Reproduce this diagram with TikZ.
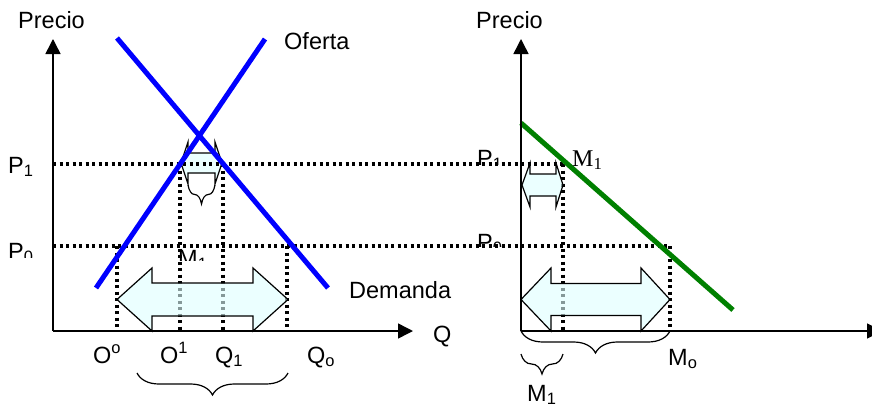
\documentclass[tikz,border=0pt]{standalone}
\usepackage{fontspec}
\setmainfont{Liberation Sans}
\newfontfamily\serifa{Liberation Serif}
\usepackage{tikz}
\usetikzlibrary{arrows.meta,calc,decorations.pathreplacing}
\definecolor{verde}{RGB}{0,128,0}
\definecolor{celeste}{RGB}{222,255,255}
\tikzstyle{eje}=[
  draw=black,
  line width=1.5pt,
  -{Triangle[length=15pt,width=15pt]},
]
\tikzstyle{curva}=[
  line width=5pt,
]
\tikzstyle{punteada}=[
  draw=black,
  line width=3.4pt,
  dash pattern=on 3.2pt off 3.3pt,
]
\tikzstyle{flechadoble}=[
  draw=black,
  line width=1.2pt,
  fill=celeste,
  fill opacity=.6,
  line join=miter,
]
\tikzstyle{llave}=[
  draw=black,
  line width=1.2pt,
  decorate,
  decoration={brace, mirror, amplitude=#1},
]
\tikzstyle{etiqueta}=[
  font={\fontsize{23.5}{27}\selectfont},
  inner sep=0pt,
  anchor=base west,
]
%% tip left, head ends, tip right, middle y, head half, shaft half
\newcommand{\dobleflecha}[7]{%
  \draw [flechadoble] (#1,#5) -- (#2,#5-#6) -- (#2,#5-#7) -- (#3,#5-#7)
  -- (#3,#5-#6) -- (#4,#5) -- (#3,#5+#6) -- (#3,#5+#7) -- (#2,#5+#7)
  -- (#2,#5+#6) -- cycle;}

\begin{document}
\begin{tikzpicture}[x=1pt, y=-1pt]
  \useasboundingbox (0,0) rectangle (872,410);
  %% axes
  \coordinate (origenA) at (53,331);
  \coordinate (topeyA) at (53,39);
  \coordinate (topexA) at (413,331);
  \coordinate (origenB) at (521,331);
  \coordinate (topeyB) at (521,39);
  \coordinate (topexB) at (882,331);
  %%
  \coordinate (P1izq) at (origenA|-0,164);
  \coordinate (P1der) at (563,164);
  \coordinate (P0izq) at (origenA|-0,246);
  \coordinate (P0der) at (670,246);
  %% small arrow and brace at the crossing
  \dobleflecha{181}{188}{215}{222}{163}{21}{10}
  \draw [llave=19pt] (188,185) -- (215,185);
  %% price lines
  \draw [punteada] (P1izq) -- (P1der);
  \draw [punteada] (P0izq) -- (P0der);
  \draw [punteada] (117,246) -- (117,331);
  \draw [punteada] (180,164) -- (180,331);
  \draw [punteada] (223,164) -- (223,331);
  \draw [punteada] (287,246) -- (287,331);
  \draw [punteada] (P1der) -- (P1der|-origenB);
  \draw [punteada] (P0der) -- (P0der|-origenB);
  %% wide arrows
  \dobleflecha{117}{152}{253}{288}{299.5}{31.5}{16.5}
  \dobleflecha{521}{551}{641}{670}{299.5}{31.5}{16}
  \dobleflecha{522}{530}{556}{563}{185}{22}{11}
  %% curves
  \coordinate (ofertaA) at (96,288);
  \coordinate (ofertaB) at (265,39);
  \coordinate (demandaA) at (117,38);
  \coordinate (demandaB) at (328,288);
  \coordinate (mA) at (521,123);
  \coordinate (mB) at (733,310);
  \draw [curva, blue] (ofertaA) -- (ofertaB);
  \draw [curva, blue] (demandaA) -- (demandaB);
  \draw [curva, verde] (mA) -- (mB);
  %%
  \draw [eje] (origenA) -- (topeyA);
  \draw [eje] (origenA) -- (topexA);
  \draw [eje] (origenB) -- (topeyB);
  \draw [eje] (origenB) -- (topexB);
  %% braces
  \draw [llave=22pt] (137,373) -- (288,373);
  \draw [llave=22pt] (origenB) -- (P0der|-origenB);
  \draw [llave=20pt] (521,354) -- (563,354);
  %% labels
  \node (precioA) [etiqueta] at (18,28) {Precio};
  \node (precioB) [etiqueta] at (476,28) {Precio};
  \node (oferta) [etiqueta] at (284,49) {Oferta};
  \node (demanda) [etiqueta] at (349,298) {Demanda};
  \node (q) [etiqueta] at (433,342) {Q};
  \node (p1) [etiqueta] at (8,173) {P\textsubscript{1}};
  \begin{scope}
    \clip (0,230) rectangle (50,257.5);
    \node (p0) [etiqueta] at (8,259) {P\textsubscript{0}};
  \end{scope}
  \begin{scope}
    \clip (170,246) rectangle (215,260);
    \node (mtapado) [etiqueta] at (178,266) {M\textsubscript{1}};
  \end{scope}
  \begin{scope}
    \clip (470,130) rectangle (515,164);
    \node (p1b) [etiqueta] at (477,166) {P\textsubscript{1}};
  \end{scope}
  \begin{scope}
    \clip (470,220) rectangle (515,246);
    \node (p0b) [etiqueta] at (477,250) {P\textsubscript{0}};
  \end{scope}
  \node (ocero) [etiqueta] at (93,363) {O\textsuperscript{o}};
  \node (ouno) [etiqueta] at (160,363) {O\textsuperscript{1}};
  \node (quno) [etiqueta] at (215,363) {Q\textsubscript{1}};
  \node (qcero) [etiqueta] at (307,363) {Q\textsubscript{o}};
  \node (muno) [etiqueta, font={\serifa\fontsize{24}{28}\selectfont}] at (572,166) {M\textsubscript{1}};
  \node (mcero) [etiqueta] at (668,365) {M\textsubscript{o}};
  \node (munob) [etiqueta] at (527,401) {M\textsubscript{1}};
\end{tikzpicture}
\end{document}
